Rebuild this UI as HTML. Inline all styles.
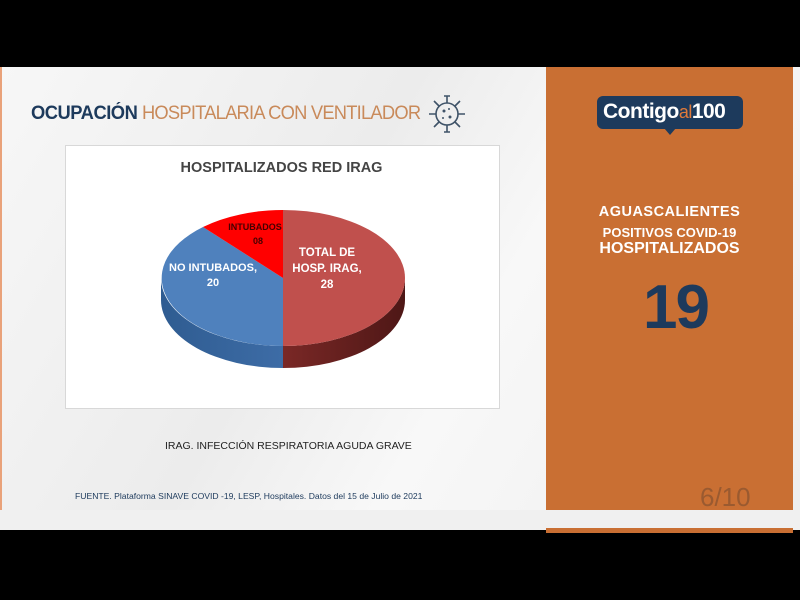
<!DOCTYPE html>
<html><head><meta charset="utf-8"><style>
body{margin:0;width:800px;height:600px;background:#000;position:relative;overflow:hidden;font-family:"Liberation Sans",sans-serif}
.slide{position:absolute;left:0;top:67px;width:800px;height:443px;background:linear-gradient(120deg,#f7f7f7,#ececec 40%,#f8f8f8 60%,#eeeeee);}
.gap{position:absolute;left:0;top:510px;width:800px;height:20px;background:#f0f0f0}
.strip{position:absolute;left:546px;top:528px;width:247px;height:5px;background:#c96f33}
.orange{position:absolute;left:546px;top:67px;width:247px;height:443px;background:#c96f33}
.t{position:absolute;white-space:nowrap}
</style></head><body>
<div class="slide"></div>
<div class="gap"></div>
<div class="strip"></div>
<div style="position:absolute;left:0;top:67px;width:2px;height:443px;background:#e9a27a"></div>
<div class="orange"></div>
<div class="t" style="left:31px;top:103px;font-size:19px;color:#1d3a5c;font-weight:bold;letter-spacing:-0.5px;transform:scaleX(0.965);transform-origin:left top">OCUPACIÓN <span style="font-weight:normal;color:#c98a5a;letter-spacing:-0.8px">HOSPITALARIA CON VENTILADOR</span></div>
<svg style="position:absolute;left:427px;top:93px" width="40" height="42" viewBox="0 0 40 42"><g stroke="#3f5368" stroke-width="1.6" fill="none"><circle cx="20" cy="21" r="11"/><path d="M20 10V3M20 32v7M9 21H2M31 21h7M12 13l-5-5M28 13l5-5M12 29l-5 5M28 29l5 5M17 3h6M17 39h6"/></g><g fill="#3f5368"><circle cx="17" cy="18" r="1.5"/><circle cx="23" cy="24" r="1.5"/><circle cx="22" cy="16" r="1"/><circle cx="16" cy="25" r="1"/></g></svg>
<div style="position:absolute;left:597px;top:96px;width:146px;height:33px;background:#1d3a5c;border-radius:6px"></div>
<div style="position:absolute;left:664px;top:128px;width:0;height:0;border-left:6px solid transparent;border-right:6px solid transparent;border-top:7px solid #1d3a5c"></div>
<div class="t" style="left:603px;top:100px;font-size:21px;font-weight:bold;color:#fff;letter-spacing:-0.5px">Contigo<span style="color:#e07a3a;font-weight:normal;font-size:18px">al</span>100</div>
<div class="t" style="left:546px;width:247px;text-align:center;top:204px;font-size:14.5px;font-weight:bold;color:#fff;letter-spacing:0.5px">AGUASCALIENTES</div>
<div class="t" style="left:546px;width:247px;text-align:center;top:225px;font-size:13px;font-weight:bold;color:#fff">POSITIVOS COVID-19</div>
<div class="t" style="left:546px;width:247px;text-align:center;top:240px;font-size:16px;font-weight:bold;color:#fff">HOSPITALIZADOS</div>
<div class="t" style="left:552px;width:247px;text-align:center;top:272px;font-size:62px;font-weight:bold;color:#1d3a5c;letter-spacing:-2px">19</div>
<div class="t" style="left:700px;top:482px;font-size:26px;color:#9a5a30">6/10</div>
<div style="position:absolute;left:65px;top:145px;width:433px;height:262px;background:#fff;border:1px solid #d8d8d8"></div>
<div class="t" style="left:65px;width:433px;text-align:center;top:160px;font-size:14.5px;font-weight:bold;color:#444">HOSPITALIZADOS RED IRAG</div>
<svg style="position:absolute;left:0;top:0" width="800" height="600">
<defs>
<linearGradient id="sb" x1="0" x2="1"><stop offset="0" stop-color="#2f5c91"/><stop offset="1" stop-color="#3d6ca6"/></linearGradient>
<linearGradient id="sr" x1="0" x2="1"><stop offset="0" stop-color="#7a2826"/><stop offset="1" stop-color="#4e1716"/></linearGradient>
</defs>
<path d="M161 278 A122 68 0 0 0 283 346 L283 368 A122 68 0 0 1 161 300 Z" fill="url(#sb)"/>
<path d="M283 346 A122 68 0 0 0 405 278 L405 300 A122 68 0 0 1 283 368 Z" fill="url(#sr)"/>
<path d="M283 278 L283 210 A122 68 0 0 1 283 346 Z" fill="#c0504d"/>
<path d="M283 278 L283 346 A122 68 0 0 1 203 227 Z" fill="#4f81bd"/>
<path d="M283 278 L203 227 A122 68 0 0 1 283 210 Z" fill="#f00"/>
<g font-family="Liberation Sans,sans-serif" font-weight="bold" text-anchor="middle">
<text x="255" y="230" font-size="9" fill="#400">INTUBADOS</text>
<text x="258" y="244" font-size="9" fill="#400">08</text>
<text x="213" y="271" font-size="11" fill="#fff">NO INTUBADOS,</text>
<text x="213" y="286" font-size="11" fill="#fff">20</text>
<text x="327" y="256" font-size="11.5" fill="#fff">TOTAL DE</text>
<text x="327" y="272" font-size="11.5" fill="#fff">HOSP. IRAG,</text>
<text x="327" y="288" font-size="11.5" fill="#fff">28</text>
</g></svg>
<div class="t" style="left:165px;top:440px;font-size:10.5px;color:#222">IRAG. INFECCIÓN RESPIRATORIA AGUDA GRAVE</div>
<div class="t" style="left:75px;top:491px;font-size:8.6px;color:#1d3a5c">FUENTE. Plataforma SINAVE COVID -19, LESP, Hospitales. Datos del 15 de Julio de 2021</div>
</body></html>
